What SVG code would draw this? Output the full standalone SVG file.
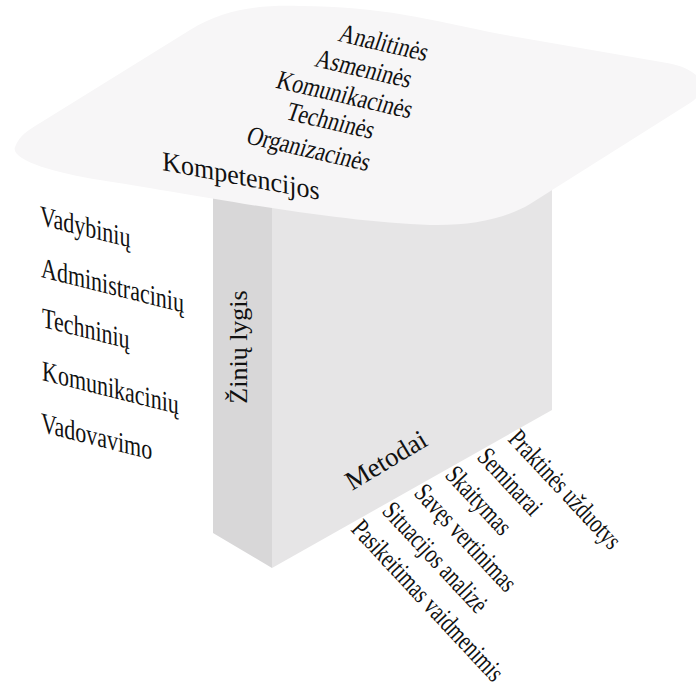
<svg xmlns="http://www.w3.org/2000/svg" width="696" height="682" viewBox="0 0 696 682">
<style>
text{font-family:"Liberation Serif","Times New Roman",serif;fill:#111}
.pl{font-size:22px}
.lf{font-size:22px}
.mt{font-size:20px}
</style>
<rect width="696" height="682" fill="#fff"/>
<g id="column">
<polygon points="213,150 272,150 272,568 213,533" fill="#d8d7d8"/>
<polygon points="272,150 552,150 552,410 272,568" fill="#e6e5e6"/>
</g>
<g id="plate">
<path d="M15,147 C20,135 27,131 40,123 L190,30 C225,8 260,5 300,6 C380,6 430,20 500,34 L667,63 C705,70 710,90 690,103 L530,204 C505,219 470,226 430,225 C330,222 180,192 100,180 C55,173 10,160 15,147 Z" fill="#f7f6f7"/>
</g>
<g id="competencies" class="pl" text-anchor="middle">
<text transform="matrix(0.974,0.225,-0.40,1.15,381,51)">Analitinės</text>
<text transform="matrix(0.974,0.225,-0.40,1.15,361,77)">Asmeninės</text>
<text transform="matrix(0.974,0.225,-0.40,1.15,342,103)">Komunikacinės</text>
<text transform="matrix(0.974,0.225,-0.40,1.15,328,129)">Techninės</text>
<text transform="matrix(0.974,0.225,-0.40,1.15,306,157)">Organizacinės</text>
<text transform="matrix(1,0.19,0,1.05,241,185)" font-size="26">Kompetencijos</text>
</g>
<g id="knowledge" class="lf">
<text transform="matrix(1,0.25,0,1.3,40,225)">Vadybinių</text>
<text transform="matrix(1,0.25,0,1.3,41,277)">Administracinių</text>
<text transform="matrix(1,0.25,0,1.3,42,327)">Techninių</text>
<text transform="matrix(1,0.25,0,1.3,42,380)">Komunikacinių</text>
<text transform="matrix(1,0.25,0,1.3,41,432)">Vadovavimo</text>
<text transform="translate(247,347) rotate(-90)" text-anchor="middle" font-size="26">Žinių lygis</text>
</g>
<g id="methods" class="mt">
<text transform="translate(352,491) rotate(-31)" font-size="27">Metodai</text>
<text transform="translate(350,530) rotate(47) scale(1,1.35)">Pasikeitimas vaidmenimis</text>
<text transform="translate(381,512) rotate(47) scale(1,1.35)">Situacijos analizė</text>
<text transform="translate(413,494) rotate(47) scale(1,1.35)">Savęs vertinimas</text>
<text transform="translate(444,476) rotate(47) scale(1,1.35)">Skaitymas</text>
<text transform="translate(476,458) rotate(47) scale(1,1.35)">Seminarai</text>
<text transform="translate(507,440) rotate(47) scale(1,1.35)">Praktinės užduotys</text>
</g>
</svg>
